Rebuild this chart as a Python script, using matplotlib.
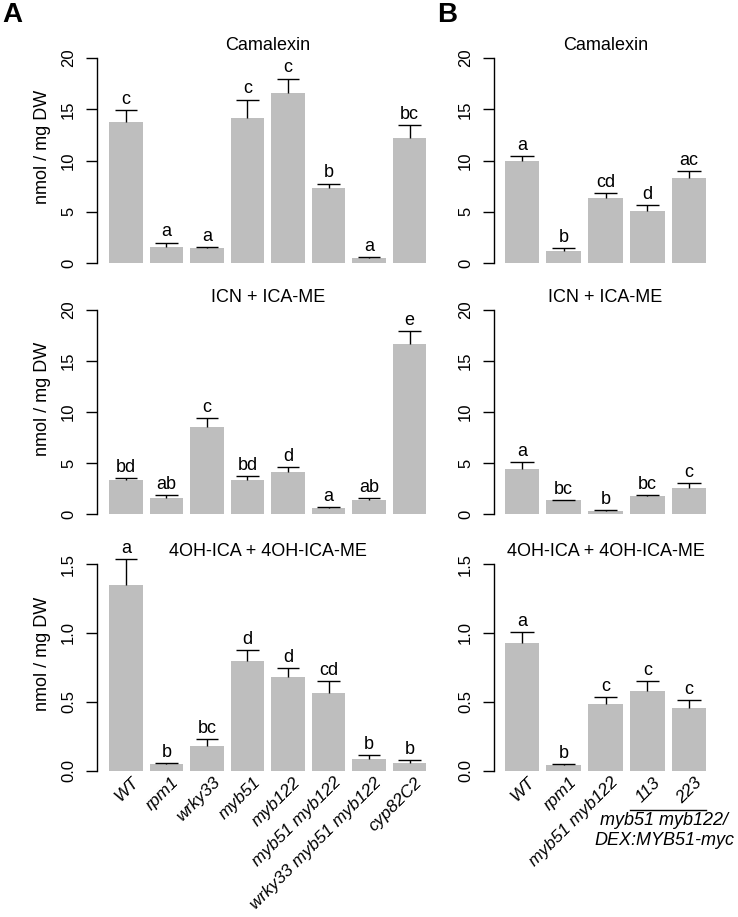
import matplotlib
matplotlib.use("Agg")
import matplotlib.pyplot as plt
import matplotlib.transforms as mtransforms
import numpy as np

plt.rcParams['font.family'] = ['Liberation Sans', 'DejaVu Sans']

# ---------------- data ----------------
genotypes_A = ["WT", "rpm1", "wrky33", "myb51", "myb122", "myb51 myb122",
               "wrky33 myb51 myb122", "cyp82C2"]
genotypes_B = ["WT", "rpm1", "myb51 myb122", "113", "223"]

titles = ["Camalexin", "ICN + ICA-ME", "4OH-ICA + 4OH-ICA-ME"]

A_camalexin = [13.8, 1.6, 1.5, 14.1, 16.6, 7.35, 0.5, 12.2]
A_camalexin_se = [1.1, 0.4, 0.1, 1.85, 1.4, 0.4, 0.1, 1.3]
A_camalexin_sig = ["c", "a", "a", "c", "c", "b", "a", "bc"]

A_icn = [3.35, 1.55, 8.55, 3.35, 4.15, 0.62, 1.4, 16.65]
A_icn_se = [0.2, 0.32, 0.85, 0.4, 0.45, 0.06, 0.15, 1.3]
A_icn_sig = ["bd", "ab", "c", "bd", "d", "a", "ab", "e"]

A_4oh = [1.347, 0.046, 0.18, 0.797, 0.683, 0.566, 0.084, 0.053]
A_4oh_se = [0.19, 0.007, 0.05, 0.076, 0.06, 0.086, 0.029, 0.024]
A_4oh_sig = ["a", "b", "bc", "d", "d", "cd", "b", "b"]

B_camalexin = [10.0, 1.17, 6.34, 5.04, 8.3]
B_camalexin_se = [0.4, 0.3, 0.45, 0.62, 0.7]
B_camalexin_sig = ["a", "b", "cd", "d", "ac"]

B_icn = [4.44, 1.4, 0.29, 1.83, 2.6]
B_icn_se = [0.66, 0.04, 0.1, 0.1, 0.5]
B_icn_sig = ["a", "bc", "b", "bc", "c"]

B_4oh = [0.924, 0.039, 0.481, 0.577, 0.452]
B_4oh_se = [0.082, 0.012, 0.051, 0.075, 0.063]
B_4oh_sig = ["a", "b", "c", "c", "c"]

ylims = [20, 20, 1.5]
yticks = [[0, 5, 10, 15, 20], [0, 5, 10, 15, 20], [0.0, 0.5, 1.0, 1.5]]
yticklabels = [["0", "5", "10", "15", "20"], ["0", "5", "10", "15", "20"],
               ["0.0", "0.5", "1.0", "1.5"]]

# ---------------- layout ----------------
W, H = 738, 917
fig = plt.figure(figsize=(W / 100, H / 100), dpi=100)

def ax_at(left, top, right, bottom):
    return fig.add_axes([left / W, 1 - bottom / H, (right - left) / W, (bottom - top) / H])

rows = [(58, 263), (310, 514.3), (564, 770.7)]
colA = (97, 438.5)
colB = (494, 717)

BAR = "#bebebe"
WIDTH = 0.83
CAP = 0.28

def draw(ax, vals, se, sig, row, xlo, xhi, show_ylabel):
    x = np.arange(len(vals))
    vals = np.array(vals)
    se = np.array(se)
    ax.bar(x, vals, width=WIDTH, color=BAR, edgecolor="none", zorder=1)
    top = vals + se
    ax.vlines(x, vals, top, color="black", lw=1.0, zorder=2, clip_on=False)
    ax.hlines(top, x - CAP, x + CAP, color="black", lw=1.0, zorder=2, clip_on=False)
    for xi, t, s in zip(x, top, sig):
        ax.annotate(s, (xi, t), xytext=(0, 1.5), textcoords="offset points",
                    ha="center", va="bottom", fontsize=13, annotation_clip=False)
    ax.set_xlim(xlo, xhi)
    ax.set_ylim(0, ylims[row])
    ax.set_yticks(yticks[row])
    ax.set_yticklabels(yticklabels[row], rotation=90, va="center")
    ax.tick_params(axis="y", length=8, width=1, labelsize=12, pad=7)
    for sp in ["top", "right", "bottom"]:
        ax.spines[sp].set_visible(False)
    ax.spines["left"].set_linewidth(1)
    ax.set_title(titles[row], fontsize=13, pad=6)
    if show_ylabel:
        ax.set_ylabel("nmol / mg DW", fontsize=13)
        ax.yaxis.set_label_coords(-0.135, 0.567)
    ax.set_xticks([])
    ax.patch.set_alpha(0)

dataA = [(A_camalexin, A_camalexin_se, A_camalexin_sig),
         (A_icn, A_icn_se, A_icn_sig),
         (A_4oh, A_4oh_se, A_4oh_sig)]
dataB = [(B_camalexin, B_camalexin_se, B_camalexin_sig),
         (B_icn, B_icn_se, B_icn_sig),
         (B_4oh, B_4oh_se, B_4oh_sig)]

axesA, axesB = [], []
for r, (top, bot) in enumerate(rows):
    axA = ax_at(colA[0], top, colA[1], bot)
    draw(axA, *dataA[r], r, -0.716, 7.716, True)
    axesA.append(axA)
    axB = ax_at(colB[0], top, colB[1], bot)
    draw(axB, *dataB[r], r, -0.67, 4.67, False)
    axesB.append(axB)

# x labels on bottom row
def xlabels(ax, labels):
    ax.set_xticks(np.arange(len(labels)))
    ax.set_xticklabels(labels, rotation=45, ha="right", va="top",
                       rotation_mode="anchor", fontsize=12.5, style="italic")
    ax.tick_params(axis="x", length=0, pad=3)
    off = mtransforms.ScaledTranslation(5 / 100, 0, fig.dpi_scale_trans)
    for lab in ax.get_xticklabels():
        lab.set_transform(lab.get_transform() + off)

xlabels(axesA[2], genotypes_A)
xlabels(axesB[2], genotypes_B)

# bracket for DEX lines
axb = axesB[2]
trans = mtransforms.blended_transform_factory(axb.transData, axb.transAxes)
axb.plot([3 - WIDTH / 2, 4 + WIDTH / 2], [-0.19, -0.19], color="black", lw=1,
         transform=trans, clip_on=False)
axb.text(3.4, -0.202, "myb51 myb122/\nDEX:MYB51-myc", transform=trans, ha="center",
         va="top", fontsize=13, style="italic", linespacing=1.2)

# panel letters
fig.text(2 / W, 1 - 2 / H, "A", fontsize=20, fontweight="bold", ha="left", va="top")
fig.text(437 / W, 1 - 2 / H, "B", fontsize=20, fontweight="bold", ha="left", va="top")

fig.savefig("out.png", dpi=100)
